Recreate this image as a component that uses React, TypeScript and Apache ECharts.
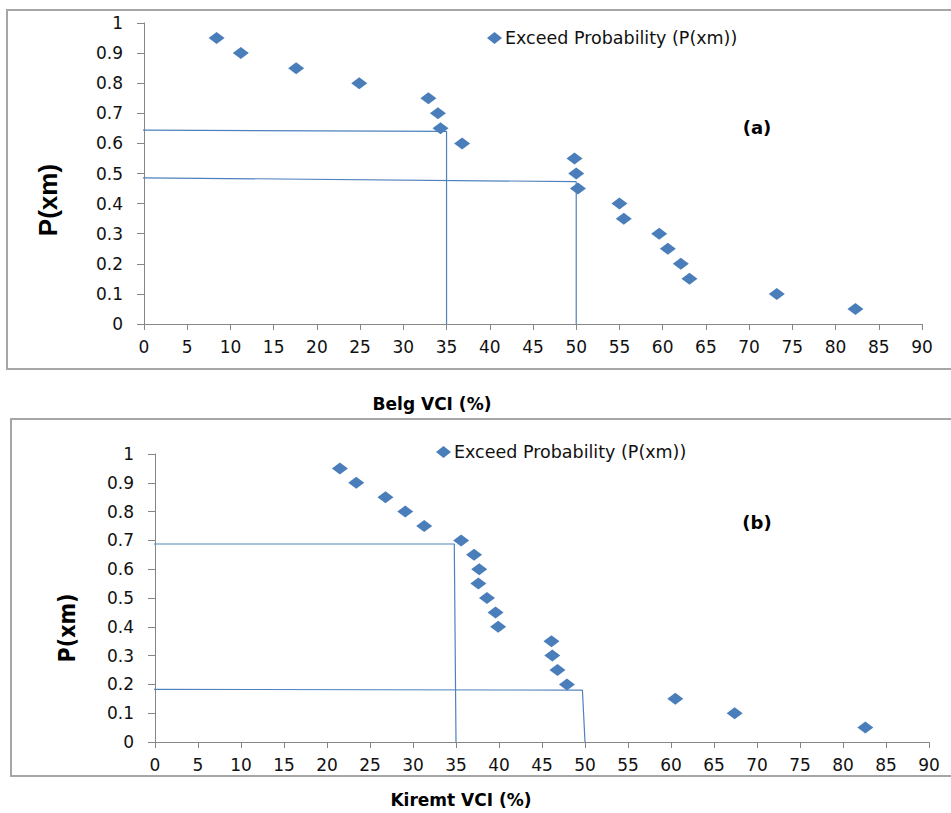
import React, { useEffect, useRef } from "react";
import * as echarts from "echarts";

const seriesName = "Exceed Probability (P(xm))";

// Panel (a) Belg
const belgVCI = [8.4, 11.2, 17.6, 24.9, 32.9, 34.0, 34.3, 36.8, 49.8, 50.0, 50.2, 55.0, 55.5, 59.6, 60.6, 62.1, 63.1, 73.2, 82.3];
const belgP = [0.95, 0.9, 0.85, 0.8, 0.75, 0.7, 0.65, 0.6, 0.55, 0.5, 0.45, 0.4, 0.35, 0.3, 0.25, 0.2, 0.15, 0.1, 0.05];
const belgRef1X = [-1, 35, 35];
const belgRef1Y = [0.644, 0.64, 0];
const belgRef2X = [-1, 50, 50];
const belgRef2Y = [0.486, 0.473, 0];

// Panel (b) Kiremt
const kiremtVCI = [21.5, 23.4, 26.8, 29.1, 31.3, 35.6, 37.1, 37.7, 37.6, 38.6, 39.6, 39.9, 46.1, 46.2, 46.8, 47.9, 60.5, 67.4, 82.6];
const kiremtP = [0.95, 0.9, 0.85, 0.8, 0.75, 0.7, 0.65, 0.6, 0.55, 0.5, 0.45, 0.4, 0.35, 0.3, 0.25, 0.2, 0.15, 0.1, 0.05];
const kiremtRef1X = [-0.3, 34.8, 35];
const kiremtRef1Y = [0.6875, 0.6875, 0];
const kiremtRef2X = [-1.4, 49.7, 50];
const kiremtRef2Y = [0.183, 0.18, 0];

const xMin = 0, xMax = 90, xStep = 5;
const yMin = 0, yMax = 1, yStep = 0.1;

const zip = (xs: number[], ys: number[]) => xs.map((x, i) => [x, ys[i]]);

const markerColor = "#4a7ebb";
const lineColor = "#4f81bd";
const axisColor = "#868686";
const textColor = "#111111";
const tickFont = "DejaVu Sans";

function makeXAxis(gridIndex: number) {
  return {
    type: "value",
    gridIndex,
    min: xMin,
    max: xMax,
    interval: xStep,
    axisLine: { show: true, lineStyle: { color: axisColor, width: 1 } },
    axisTick: { show: true, length: 6, lineStyle: { color: axisColor } },
    axisLabel: { color: textColor, fontSize: 17, fontFamily: tickFont, margin: 14 },
    splitLine: { show: false },
  };
}
function makeYAxis(gridIndex: number) {
  return {
    type: "value",
    gridIndex,
    min: yMin,
    max: yMax,
    interval: yStep,
    axisLine: { show: true, lineStyle: { color: axisColor, width: 1 } },
    axisTick: { show: true, length: 7, lineStyle: { color: axisColor } },
    axisLabel: {
      color: textColor,
      fontSize: 17,
      fontFamily: tickFont,
      margin: 21,
      formatter: (v: number) => String(Math.round(v * 10) / 10),
    },
    splitLine: { show: false },
  };
}

function refLine(idx: number, xs: number[], ys: number[]) {
  return {
    type: "line",
    name: "ref",
    xAxisIndex: idx,
    yAxisIndex: idx,
    data: zip(xs, ys),
    symbol: "none",
    clip: false,
    lineStyle: { color: lineColor, width: 1.2 },
    z: 1,
    silent: true,
  };
}

const legendCommon = {
  data: [seriesName],
  icon: "diamond",
  itemWidth: 15,
  itemHeight: 12,
  itemGap: 4,
  textStyle: { fontSize: 17.5, fontFamily: tickFont, color: textColor, padding: [0, 0, 0, -2] },
  selectedMode: false,
};

export default function App() {
  const ref = useRef<HTMLDivElement>(null);
  useEffect(() => {
    if (!ref.current) return;
    const chart = echarts.init(ref.current, undefined, { renderer: "svg" });
    chart.setOption({
      animation: false,
      backgroundColor: "#ffffff",
      grid: [
        { left: 144, right: 29, top: 23, bottom: 489, containLabel: false },
        { left: 155, right: 22, top: 454, bottom: 71, containLabel: false },
      ],
      xAxis: [makeXAxis(0), makeXAxis(1)],
      yAxis: [makeYAxis(0), makeYAxis(1)],
      legend: [
        { ...legendCommon, left: 482, top: 24 },
        { ...legendCommon, left: 431, top: 438 },
      ],
      series: [
        refLine(0, belgRef1X, belgRef1Y),
        refLine(0, belgRef2X, belgRef2Y),
        refLine(1, kiremtRef1X, kiremtRef1Y),
        refLine(1, kiremtRef2X, kiremtRef2Y),
        {
          type: "scatter",
          name: seriesName,
          xAxisIndex: 0,
          yAxisIndex: 0,
          data: zip(belgVCI, belgP),
          symbol: "diamond",
          symbolSize: [16, 12],
          itemStyle: { color: markerColor, opacity: 1 },
          z: 3,
        },
        {
          type: "scatter",
          name: seriesName,
          xAxisIndex: 1,
          yAxisIndex: 1,
          data: zip(kiremtVCI, kiremtP),
          symbol: "diamond",
          symbolSize: [16, 12],
          itemStyle: { color: markerColor, opacity: 1 },
          z: 3,
        },
      ],
      graphic: [
        {
          type: "rect",
          shape: { x: 7, y: 10, width: 950, height: 359 },
          style: { fill: "none", stroke: "#a6a6a6", lineWidth: 2 },
          z: -1,
        },
        {
          type: "rect",
          shape: { x: 11, y: 419, width: 950, height: 357 },
          style: { fill: "none", stroke: "#a6a6a6", lineWidth: 2 },
          z: -1,
        },
        {
          type: "text",
          x: 48,
          y: 200,
          rotation: Math.PI / 2,
          style: {
            text: "P(xm)",
            font: "bold 26px 'Liberation Sans', sans-serif",
            fill: "#000",
            align: "center",
            verticalAlign: "middle",
          },
        },
        {
          type: "text",
          x: 67,
          y: 628,
          rotation: Math.PI / 2,
          style: {
            text: "P(xm)",
            font: "bold 23px 'Liberation Sans Narrow', 'DejaVu Sans Condensed', sans-serif",
            fill: "#000",
            align: "center",
            verticalAlign: "middle",
          },
        },
        {
          type: "text",
          x: 757,
          y: 127,
          style: {
            text: "(a)",
            font: "bold 18px 'DejaVu Sans', sans-serif",
            fill: "#000",
            align: "center",
            verticalAlign: "middle",
          },
        },
        {
          type: "text",
          x: 757,
          y: 522,
          style: {
            text: "(b)",
            font: "bold 18px 'DejaVu Sans', sans-serif",
            fill: "#000",
            align: "center",
            verticalAlign: "middle",
          },
        },
        {
          type: "text",
          x: 432,
          y: 404,
          style: {
            text: "Belg VCI (%)",
            font: "bold 17px 'DejaVu Sans', sans-serif",
            fill: "#000",
            align: "center",
            verticalAlign: "middle",
          },
        },
        {
          type: "text",
          x: 461,
          y: 800,
          style: {
            text: "Kiremt VCI (%)",
            font: "bold 17px 'DejaVu Sans', sans-serif",
            fill: "#000",
            align: "center",
            verticalAlign: "middle",
          },
        },
      ],
    });
    return () => chart.dispose();
  }, []);
  return (
    <div
      ref={ref}
      style={{ position: "absolute", left: 0, top: 0, width: 951, height: 813, background: "#fff" }}
    />
  );
}
